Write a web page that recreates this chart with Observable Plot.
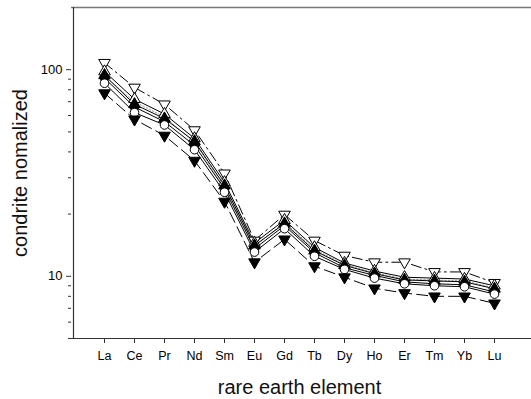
<!DOCTYPE html>
<html><head><meta charset="utf-8">
<script src="https://cdn.jsdelivr.net/npm/d3@7"></script>
<script src="https://cdn.jsdelivr.net/npm/@observablehq/plot@0.6"></script>
<style>body{margin:0;background:#fff;font-family:"Liberation Sans",Arial,sans-serif}</style>
</head><body><div id="chart"></div>
<script>
const elements = ["La","Ce","Pr","Nd","Sm","Eu","Gd","Tb","Dy","Ho","Er","Tm","Yb","Lu"];
const openDownDashDot = [108, 82, 68, 51, 31.5, 14.9, 19.9, 14.9, 12.6, 11.7, 11.7, 10.5, 10.5, 9.3];
const openUpSolid     = [98, 72, 61, 46.5, 28.5, 14.5, 18.7, 13.8, 11.6, 10.6, 9.9, 9.8, 9.7, 9.0];
const filledUpSolid   = [94, 68, 58, 45, 27.5, 14.1, 18.0, 13.3, 11.3, 10.3, 9.6, 9.5, 9.4, 8.7];
const grayDotted      = [93, 70, 59, 44.5, 27, 13.9, 18.3, 13.5, 11.4, 10.4, 9.7, 9.6, 9.5, 8.8];
const filledCircle    = [91, 66, 56, 43, 26.5, 13.6, 17.6, 13.0, 11.0, 10.1, 9.4, 9.2, 9.1, 8.4];
const openCircle      = [86, 62, 54, 41, 25.5, 13.1, 17.0, 12.5, 10.8, 9.8, 9.2, 9.0, 8.9, 8.2];
const filledDownDash  = [77, 57.5, 48, 36.3, 23, 11.7, 15.1, 11.2, 9.9, 8.75, 8.3, 8.0, 8.0, 7.4];
const majorTicks = [10, 100];
const minorTicks = [5, 6, 7, 8, 9, 20, 30, 40, 50, 60, 70, 80, 90];

const triDown = {
  draw(context, size) {
    const y = -Math.sqrt(size / (Math.sqrt(3) * 3));
    context.moveTo(0, -y * 2);
    context.lineTo(-Math.sqrt(3) * y, y);
    context.lineTo(Math.sqrt(3) * y, y);
    context.closePath();
  }
};

const rows = v => elements.map((e, i) => ({el: e, v: v[i]}));

const series = [
  {vals: grayDotted, dash: "1.5,2", lineStroke: "#999", symbol: "circle", fill: "#999", stroke: "#999", r: 1.6},
  {vals: openDownDashDot, dash: "10,4,2,4", lineStroke: "#000", symbol: triDown, fill: "white", stroke: "#000", r: 4.3},
  {vals: openUpSolid, dash: null, lineStroke: "#000", symbol: "triangle", fill: "white", stroke: "#000", r: 4.3},
  {vals: filledUpSolid, dash: null, lineStroke: "#000", symbol: "triangle", fill: "#000", stroke: "#000", r: 4.3},
  {vals: filledCircle, dash: null, lineStroke: "#000", symbol: "circle", fill: "#000", stroke: "#000", r: 4.3},
  {vals: openCircle, dash: null, lineStroke: "#000", symbol: "circle", fill: "white", stroke: "#000", r: 4.3},
  {vals: filledDownDash, dash: "11,5", lineStroke: "#000", symbol: triDown, fill: "#000", stroke: "#000", r: 4.3}
];

const lineMarks = series.map(s => Plot.line(rows(s.vals), {x: "el", y: "v", stroke: s.lineStroke, strokeWidth: 1, strokeDasharray: s.dash || undefined}));
const dotMarks = series.map(s => Plot.dot(rows(s.vals), {x: "el", y: "v", symbol: s.symbol, r: s.r, fill: s.fill, stroke: s.stroke, strokeWidth: 1}));

const chart = Plot.plot({
  width: 531, height: 399,
  marginLeft: 71, marginRight: 0, marginTop: 7, marginBottom: 61,
  style: {fontFamily: "Liberation Sans, Arial, sans-serif", background: "white", color: "#000"},
  x: {type: "point", domain: elements, range: [102, 495], padding: 0},
  y: {type: "log", domain: [5, 200]},
  marks: [
    Plot.ruleY([200], {stroke: "#777", strokeWidth: 1.5}),
    Plot.ruleY([5], {stroke: "#333", strokeWidth: 1.2}),
    Plot.ruleX(["La"], {dx: -31, stroke: "#333", strokeWidth: 1.2}),
    Plot.axisY({ticks: majorTicks, tickFormat: d => String(d), tickSize: 5, tickPadding: 4, fontSize: 13, label: null, stroke: "#333"}),
    Plot.axisY({ticks: minorTicks, tickFormat: () => "", tickSize: 3, label: null, stroke: "#333"}),
    Plot.axisX({tickSize: 5, tickPadding: 8, fontSize: 12.5, label: null, stroke: "#333"}),
    ...lineMarks,
    ...dotMarks,
    Plot.text(["rare earth element"], {frameAnchor: "bottom", dy: 49, dx: -2, fontSize: 20, lineAnchor: "middle", fill: "#111"}),
    Plot.text(["condrite nomalized"], {frameAnchor: "left", rotate: -90, dx: -51, fontSize: 20, textAnchor: "middle", lineAnchor: "middle", fill: "#111"})
  ]
});
document.getElementById("chart").appendChild(chart);
</script>
</body></html>
